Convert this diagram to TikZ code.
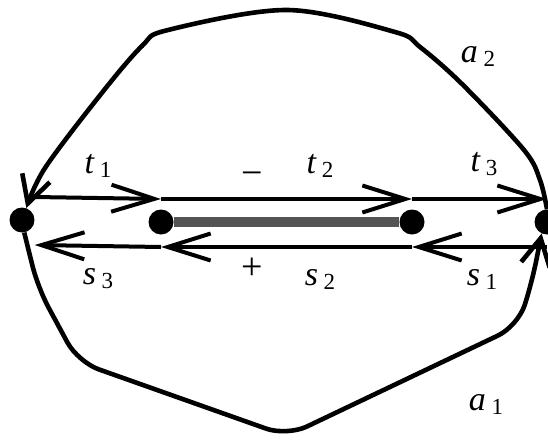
\documentclass[tikz,border=0pt]{standalone}
\usepackage{fontspec}
\setmainfont{Liberation Serif}
\newfontfamily\labit{Liberation Serif Italic}
\usetikzlibrary{arrows.meta}
\newcommand{\lbl}[2]{{\labit #1}\,\raisebox{-4pt}{\fontsize{23}{23}\selectfont #2}}
\tikzset{
  dot/.style={circle, fill=black, inner sep=0pt, minimum size=25pt},
  arr/.style={line width=4pt, -{Straight Barb[length=43pt,width=27pt]}},
  arcline/.style={line width=4.6pt, -{Straight Barb[length=27pt,width=29pt]}},
  lab/.style={font=\fontsize{34}{36}\selectfont, inner sep=0pt},
}
\begin{document}
\begin{tikzpicture}[x=1pt, y=-1pt]
  \useasboundingbox (0,0) rectangle (548,439);

  % vertices
  \node[dot] (L) at (22,220) {};
  \node[dot] (A) at (161,222) {};
  \node[dot] (B) at (412,222) {};
  \node[dot] (R) at (547,222) {};

  % slit between the inner points
  \draw[line width=10pt, color=black!67] (A) -- (B);

  % upper side of the line
  \draw[arr] ([yshift=23pt]L.east) -- ([yshift=23pt]A.center);
  \draw[arr] ([yshift=23pt]A.center) -- ([yshift=23pt]B.center);
  \draw[arr] ([yshift=23pt]B.center) -- ([yshift=23pt]R.center);

  % lower side of the line
  \draw[arr] ([yshift=-25pt]R.center) -- ([yshift=-25pt]B.center);
  \draw[arr] ([yshift=-25pt]B.center) -- ([yshift=-25pt]A.center);
  \draw[arr] ([yshift=-25pt]A.center) -- ([yshift=-25pt]L.east);

  % outer arcs
  \draw[arcline] plot[smooth, tension=0.55] coordinates {(R.north) (540,180) (524,150) (462,84) (420,47) (395,32) (287,10) (168,30) (142,46) (101,94) (45,168) (L.70)};
  \draw[arcline, rounded corners=22pt] (L.-80) -- (38,288) -- (78,362) -- (287,436) -- (518,326) -- (532,282) -- (R.-115);

  % labels
  \node[lab] (t1) at (98,166) {\lbl{t}{1}};
  \node[lab] (t2) at (320,166) {\lbl{t}{2}};
  \node[lab] (t3) at (484,164) {\lbl{t}{3}};
  \node[lab] (s3) at (98,279) {\lbl{s}{3}};
  \node[lab] (s2) at (320,279) {\lbl{s}{2}};
  \node[lab] (s1) at (482,279) {\lbl{s}{1}};
  \node[lab] (a2) at (478,56) {\lbl{a}{2}};
  \node[lab] (a1) at (486,404) {\lbl{a}{1}};
  \node[lab, font=\fontsize{38}{40}\selectfont] (minus) at (252,179) {−};
  \node[lab, font=\fontsize{38}{40}\selectfont] (plus) at (252,269) {+};
\end{tikzpicture}
\end{document}
